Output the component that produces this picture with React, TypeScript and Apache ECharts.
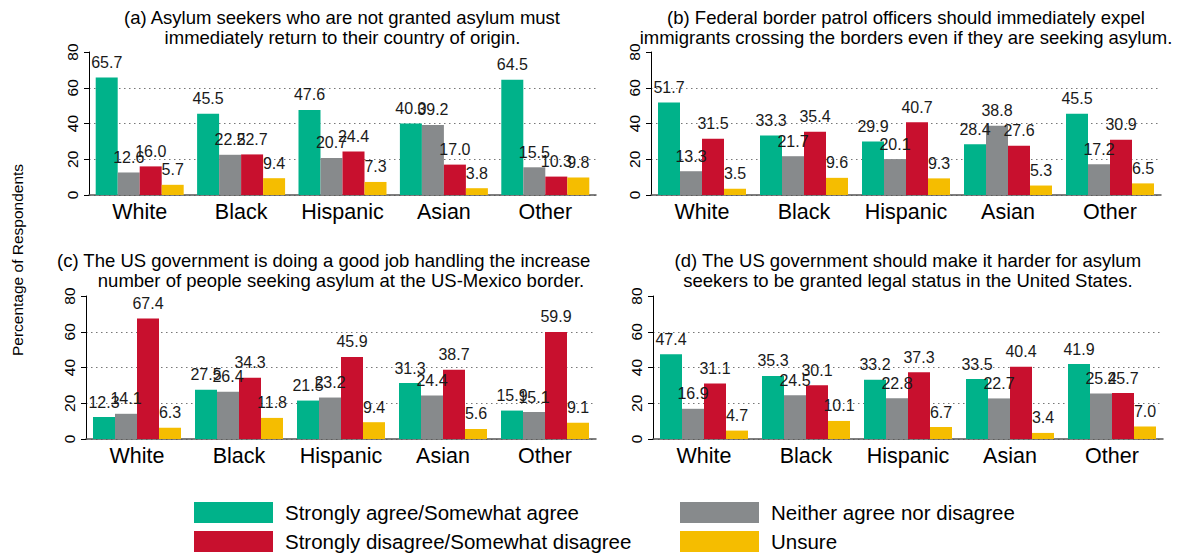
import React, { useEffect, useRef } from "react";
import * as echarts from "echarts";

const categories = ["White", "Black", "Hispanic", "Asian", "Other"];
const legendNames = [
  "Strongly agree/Somewhat agree",
  "Neither agree nor disagree",
  "Strongly disagree/Somewhat disagree",
  "Unsure",
];
const colors = ["#00B28A", "#878A8C", "#C8102E", "#F5BD00"];

// Panel (a)
const aAgree = [65.7, 45.5, 47.6, 40.0, 64.5];
const aNeither = [12.6, 22.5, 20.7, 39.2, 15.5];
const aDisagree = [16.0, 22.7, 24.4, 17.0, 10.3];
const aUnsure = [5.7, 9.4, 7.3, 3.8, 9.8];
// Panel (b)
const bAgree = [51.7, 33.3, 29.9, 28.4, 45.5];
const bNeither = [13.3, 21.7, 20.1, 38.8, 17.2];
const bDisagree = [31.5, 35.4, 40.7, 27.6, 30.9];
const bUnsure = [3.5, 9.6, 9.3, 5.3, 6.5];
// Panel (c)
const cAgree = [12.3, 27.5, 21.5, 31.3, 15.9];
const cNeither = [14.1, 26.4, 23.2, 24.4, 15.1];
const cDisagree = [67.4, 34.3, 45.9, 38.7, 59.9];
const cUnsure = [6.3, 11.8, 9.4, 5.6, 9.1];
// Panel (d)
const dAgree = [47.4, 35.3, 33.2, 33.5, 41.9];
const dNeither = [16.9, 24.5, 22.8, 22.7, 25.4];
const dDisagree = [31.1, 30.1, 37.3, 40.4, 25.7];
const dUnsure = [4.7, 10.1, 6.7, 3.4, 7.0];

const titleLines = [
  ["(a) Asylum seekers who are not granted asylum must", "immediately return to their country of origin."],
  ["(b) Federal border patrol officers should immediately expel", "immigrants crossing the borders even if they are seeking asylum."],
  ["(c) The US government is doing a good job handling the increased", "number of people seeking asylum at the US-Mexico border."],
  ["(d) The US government should make it harder for asylum", "seekers to be granted legal status in the United States."],
];
const yTicks = { min: 0, max: 80, interval: 20 };
const yAxisTitle = "Percentage of Respondents";

const panels = [
  [aAgree, aNeither, aDisagree, aUnsure],
  [bAgree, bNeither, bDisagree, bUnsure],
  [cAgree, cNeither, cDisagree, cUnsure],
  [dAgree, dNeither, dDisagree, dUnsure],
];

const FONT = '"Liberation Sans", Arial, Helvetica, sans-serif';

// layout
const grids = [
  { left: 89, top: 52, width: 507, height: 143 },
  { left: 651, top: 52, width: 510, height: 143 },
  { left: 86, top: 296, width: 510, height: 143 },
  { left: 653, top: 296, width: 510, height: 143 },
];
const titleY = [
  [17.5, 37],
  [17.5, 37],
  [260, 280],
  [260, 280],
];
const titleShift = [
  [0, 0],
  [0, 0],
  [-12, 0],
  [0, 0],
];
const TITLE_SIZE = 18.5;

function measure(text: string, size: number) {
  const c = document.createElement("canvas").getContext("2d");
  if (!c) return text.length * size * 0.5;
  c.font = `${size}px "Liberation Sans", Arial, sans-serif`;
  return c.measureText(text).width;
}

export default function App() {
  const ref = useRef<HTMLDivElement>(null);
  useEffect(() => {
    if (!ref.current) return;
    const chart = echarts.init(ref.current, undefined, { renderer: "svg" });

    const graphics: any[] = [];
    titleLines.forEach((lines, i) => {
      const g = grids[i];
      const cx = g.left + g.width / 2;
      lines.forEach((t, j) => {
        const w = measure(t, TITLE_SIZE);
        const x0 = cx - w / 2 + titleShift[i][j];
        const clipRight = i % 2 === 0 ? 598 : 1177;
        graphics.push({
          type: "text",
          x: x0,
          y: titleY[i][j],
          silent: true,
          style: {
            text: t,
            font: `${TITLE_SIZE}px ${FONT}`,
            fill: "#000",
            align: "left",
            verticalAlign: "middle",
            width: clipRight - x0,
            overflow: "truncate",
            ellipsis: "",
          },
        });
      });
    });
    graphics.push({
      type: "text",
      x: 17,
      y: 260,
      rotation: Math.PI / 2,
      silent: true,
      style: {
        text: yAxisTitle,
        font: `15.5px ${FONT}`,
        fill: "#000",
        align: "center",
        verticalAlign: "middle",
      },
    });

    const series: any[] = [];
    panels.forEach((arrs, i) => {
      arrs.forEach((data, k) => {
        series.push({
          type: "bar",
          name: legendNames[k],
          xAxisIndex: i,
          yAxisIndex: i,
          data,
          barWidth: 22,
          barGap: "0%",
          itemStyle: { color: colors[k] },
          label: {
            show: true,
            position: "top",
            distance: 7,
            color: "#1a1a1a",
            fontFamily: FONT,
            fontSize: 16,
            formatter: (p: any) => Number(p.value).toFixed(1),
          },
        });
      });
    });

    chart.setOption({
      animation: false,
      backgroundColor: "#fff",
      grid: grids.map((g) => ({ ...g, containLabel: false })),
      xAxis: grids.map((_, i) => ({
        type: "category",
        gridIndex: i,
        data: categories,
        axisLine: { show: true, lineStyle: { color: "#555", width: 1.5 } },
        axisTick: { show: false },
        axisLabel: { color: "#000", fontFamily: FONT, fontSize: 21.5, margin: 6, interval: 0 },
        splitLine: { show: false },
      })),
      yAxis: grids.map((_, i) => ({
        type: "value",
        gridIndex: i,
        min: yTicks.min,
        max: yTicks.max,
        interval: yTicks.interval,
        axisLine: { show: true, lineStyle: { color: "#000", width: 1 } },
        axisTick: { show: true, length: 5, lineStyle: { color: "#000" } },
        axisLabel: { color: "#000", fontFamily: FONT, fontSize: 15.5, rotate: 90, margin: 9 },
        splitLine: {
          show: true,
          showMaxLine: false,
          lineStyle: { type: [1.5, 3.5], color: "#777", width: 1 },
        },
      })),
      legend: [
        {
          orient: "vertical",
          left: 194,
          top: 502,
          padding: 0,
          itemWidth: 79,
          itemHeight: 21,
          itemGap: 8,
          icon: "rect",
          selectedMode: false,
          data: [legendNames[0], legendNames[2]],
          textStyle: { fontFamily: FONT, fontSize: 20.5, color: "#000", padding: [0, 0, 0, 7] },
        },
        {
          orient: "vertical",
          left: 680,
          top: 502,
          padding: 0,
          itemWidth: 79,
          itemHeight: 21,
          itemGap: 8,
          icon: "rect",
          selectedMode: false,
          data: [legendNames[1], legendNames[3]],
          textStyle: { fontFamily: FONT, fontSize: 20.5, color: "#000", padding: [0, 0, 0, 7] },
        },
      ],
      graphic: graphics,
      series,
    });
    return () => chart.dispose();
  }, []);
  return (
    <div
      ref={ref}
      style={{ position: "fixed", left: 0, top: 0, width: 1177, height: 558, background: "#fff" }}
    />
  );
}
